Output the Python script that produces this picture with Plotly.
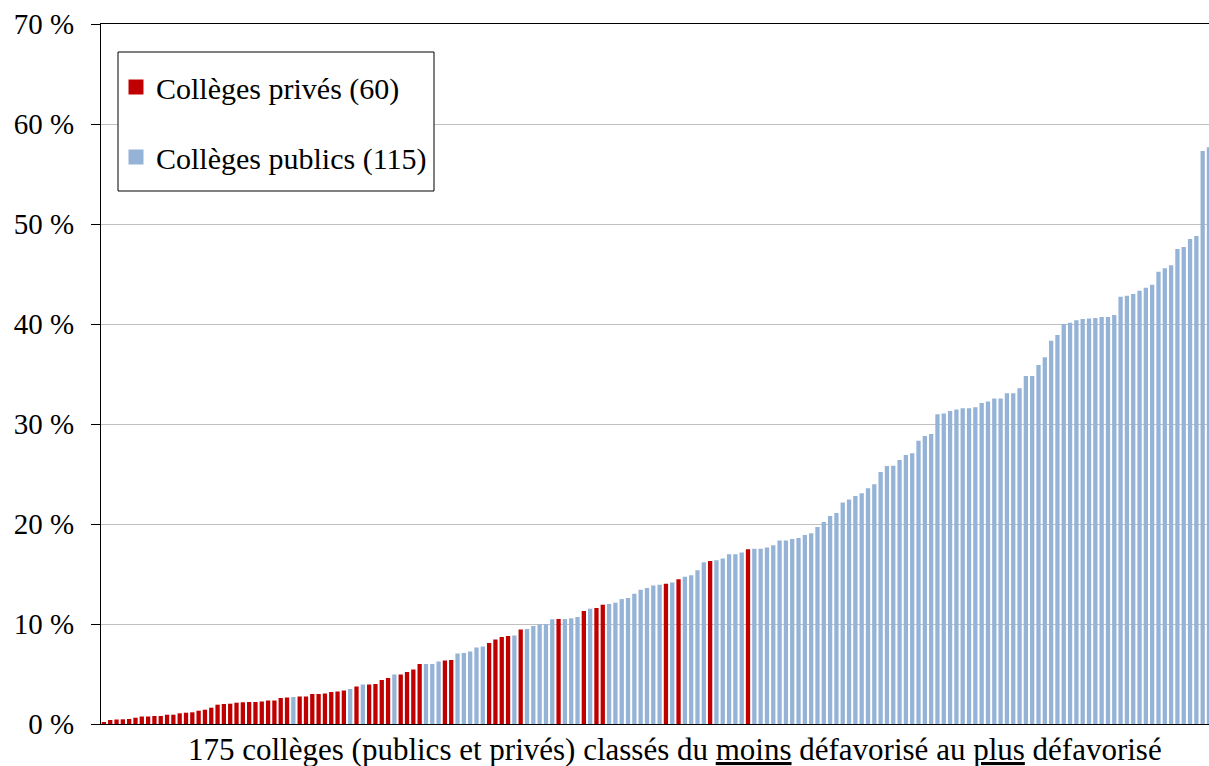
import plotly.graph_objects as go

# Share of disadvantaged pupils per collège (%), ranked from least to most disadvantaged
values = [
    0.2, 0.4, 0.45, 0.47, 0.5, 0.63, 0.75, 0.75, 0.8, 0.8,
    0.93, 0.93, 1.07, 1.13, 1.17, 1.33, 1.43, 1.63, 1.93, 2.0,
    2.03, 2.13, 2.17, 2.2, 2.2, 2.25, 2.35, 2.35, 2.6, 2.65,
    2.7, 2.75, 2.75, 3.0, 3.0, 3.05, 3.2, 3.25, 3.35, 3.5,
    3.75, 3.95, 3.95, 4.0, 4.4, 4.6, 4.95, 4.95, 5.2, 5.45,
    6.0, 6.0, 6.0, 6.25, 6.35, 6.4, 7.05, 7.1, 7.25, 7.65,
    7.75, 8.1, 8.45, 8.7, 8.8, 8.85, 9.45, 9.5, 9.8, 9.97,
    10.0, 10.47, 10.5, 10.5, 10.57, 10.7, 11.3, 11.53, 11.6, 11.93,
    12.0, 12.13, 12.49, 12.6, 13.02, 13.42, 13.59, 13.85, 13.92, 14.02,
    14.15, 14.48, 14.72, 14.88, 15.38, 16.18, 16.31, 16.38, 16.55, 16.98,
    16.98, 17.15, 17.48, 17.52, 17.52, 17.65, 17.88, 18.34, 18.34, 18.51,
    18.61, 18.91, 19.07, 19.7, 20.2, 20.79, 21.09, 22.15, 22.45, 22.81,
    23.08, 23.58, 23.97, 25.2, 25.79, 25.83, 26.4, 26.9, 27.07, 28.33,
    28.8, 29.0, 30.97, 31.04, 31.3, 31.44, 31.57, 31.57, 31.67, 32.1,
    32.24, 32.55, 32.55, 33.08, 33.08, 33.58, 34.79, 34.8, 35.9, 36.68,
    38.32, 38.9, 40.0, 40.13, 40.37, 40.5, 40.56, 40.6, 40.7, 40.7,
    40.9, 42.72, 42.82, 42.99, 43.32, 43.62, 43.92, 45.22, 45.58, 45.88,
    47.51, 47.71, 48.5, 48.8, 57.31, 57.67,
]

# Ranks (1-based) of the private collèges; all others are public
private_ranks = (
    list(range(1, 31)) + list(range(32, 40)) + [41] + list(range(43, 47))
    + list(range(48, 52)) + [55, 56] + list(range(62, 66)) + [67, 73, 77, 79, 80, 90, 92, 97, 103]
)

y_ticks = [0, 10, 20, 30, 40, 50, 60, 70]
y_tick_labels = [f"{t} %" for t in y_ticks]

label_private = "Collèges privés (60)"
label_public = "Collèges publics (115)"
x_title = "175 collèges (publics et privés) classés du <u>moins</u> défavorisé au <u>plus</u> défavorisé"

RED = "#C00000"
BLUE = "#95B3D7"
FONT = "'Liberation Serif', 'Times New Roman', Times, serif"

priv_set = set(private_ranks)
priv_x = [i for i in range(len(values)) if (i + 1) in priv_set]
priv_y = [values[i] for i in priv_x]
pub_x = [i for i in range(len(values)) if (i + 1) not in priv_set]
pub_y = [values[i] for i in pub_x]

fig = go.Figure()
fig.add_bar(x=priv_x, y=priv_y, width=0.68, marker=dict(color=RED, line=dict(width=0)),
            showlegend=False, hoverinfo="y")
fig.add_bar(x=pub_x, y=pub_y, width=0.68, marker=dict(color=BLUE, line=dict(width=0)),
            showlegend=False, hoverinfo="y")
# legend entries
fig.add_scatter(x=[None], y=[None], mode="markers", name=label_private, legendgroup="a",
                marker=dict(symbol="square", size=15, color=RED, line=dict(width=0)))
fig.add_scatter(x=[None], y=[None], mode="markers", name=label_public, legendgroup="b",
                marker=dict(symbol="square", size=15, color=BLUE, line=dict(width=0)))

W, H = 1209, 766
L, R, T, B = 101, 0, 24, 42
pw, ph = W - L - R, H - T - B

def px_x(px):
    return (px - L) / pw

def px_y(py):
    return (H - B - py) / ph

fig.add_shape(type="rect", xref="paper", yref="paper",
              x0=px_x(118), x1=px_x(434), y0=px_y(191), y1=px_y(52),
              line=dict(color="black", width=1), fillcolor="white", layer="above")

fig.add_annotation(text=x_title, xref="paper", yref="paper", x=px_x(675), y=px_y(749),
                   xanchor="center", yanchor="middle", showarrow=False,
                   font=dict(family=FONT, size=31, color="black"))

fig.update_layout(
    width=W, height=H,
    margin=dict(l=L, r=R, t=T, b=B, pad=0),
    paper_bgcolor="white", plot_bgcolor="white",
    barmode="overlay",
    font=dict(family=FONT, color="black", size=29),
    legend=dict(x=px_x(116), y=px_y(61), xanchor="left", yanchor="top",
                bgcolor="rgba(0,0,0,0)", borderwidth=0,
                font=dict(family=FONT, size=30, color="black"),
                traceorder="grouped", tracegroupgap=28),
    xaxis=dict(range=[-0.46, 175.0], showticklabels=False, ticks="", showgrid=False,
               zeroline=False, showline=True, linecolor="black", linewidth=1.3, mirror=True),
    yaxis=dict(range=[0, 70], tickvals=y_ticks, ticktext=y_tick_labels,
               showgrid=True, gridcolor="#C0C0C0", gridwidth=1, zeroline=False,
               showline=True, linecolor="black", linewidth=1.3,
               ticks="outside", ticklen=9, tickcolor="black", tickwidth=1,
               ticklabelstandoff=11, tickfont=dict(family=FONT, size=29, color="black")),
)

fig.write_html(
    "out.html",
    config={"displayModeBar": False},
    post_script="document.body.style.margin='0';document.body.style.overflow='hidden';",
)
